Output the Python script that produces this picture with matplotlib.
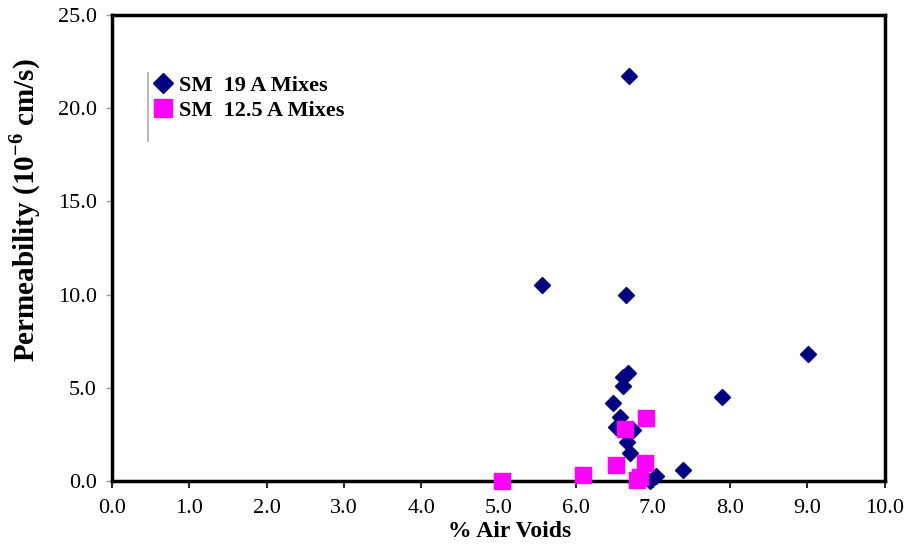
import matplotlib
matplotlib.use("Agg")
import matplotlib.pyplot as plt
from matplotlib.lines import Line2D

plt.rcParams['font.family'] = ['Liberation Serif', 'DejaVu Serif']
plt.rcParams['mathtext.fontset'] = 'custom'
plt.rcParams['mathtext.rm'] = 'Liberation Serif'
plt.rcParams['mathtext.bf'] = 'Liberation Serif:bold'

# SM 19 A Mixes (x = % air voids, y = permeability 1e-6 cm/s)
sm19_x = [5.56, 6.65, 6.68, 6.62, 6.62, 6.49, 6.57, 6.52, 6.74, 6.67, 6.70, 7.04, 6.96, 7.39, 7.89, 9.01, 6.69]
sm19_y = [10.5, 10.0, 5.81, 5.56, 5.10, 4.20, 3.42, 2.91, 2.74, 2.11, 1.52, 0.27, 0.0, 0.59, 4.49, 6.80, 21.7]

# SM 12.5 A Mixes
sm125_x = [5.05, 6.10, 6.52, 6.91, 6.64, 6.90, 6.84, 6.80]
sm125_y = [0.0, 0.32, 0.86, 3.40, 2.77, 0.98, 0.23, 0.05]

xticks = [0, 1, 2, 3, 4, 5, 6, 7, 8, 9, 10]
yticks = [0, 5, 10, 15, 20, 25]

fig = plt.figure(figsize=(9.11, 5.47), dpi=100)
ax = fig.add_axes([0.123, 0.1207, 0.848, 0.852])

ax.plot(sm19_x, sm19_y, linestyle='none', marker='D', ms=8.5, color='#000080',
        mec='#000080', label='SM  19 A Mixes', clip_on=False, zorder=3)
ax.plot(sm125_x, sm125_y, linestyle='none', marker='s', ms=11.5, color='#FF00FF',
        mec='#FF00FF', label='SM  12.5 A Mixes', clip_on=False, zorder=4)

ax.set_xlim(0, 10)
ax.set_ylim(0, 25)
ax.set_xticks(xticks)
ax.set_yticks(yticks)
ax.set_xticklabels([f"{v:.1f}" for v in xticks], fontsize=16)
ax.set_yticklabels([f"{v:.1f}" for v in yticks], fontsize=16)
ax.tick_params(axis='x', direction='out', length=5, width=1.2, color='black', pad=8)
ax.tick_params(axis='y', direction='out', length=4, width=1, color='#999999', pad=7)

for s in ax.spines.values():
    s.set_linewidth(2.5)
    s.set_color('black')

ax.set_xlabel('% Air Voids', fontsize=17, fontweight='bold')
ax.xaxis.set_label_coords(0.515, -0.085)
ax.set_ylabel('Permeability (10$^{\\mathbf{-6}}$ cm/s)', fontsize=21, fontweight='bold')
ax.yaxis.set_label_coords(-0.09, 0.58)

leg = ax.legend(loc='upper left', bbox_to_anchor=(0.04, 0.89), frameon=False,
                prop={'weight': 'bold', 'size': 16}, handletextpad=0.2,
                handlelength=1.0, labelspacing=0.2, borderaxespad=0,
                markerscale=1.15)
ax.add_line(Line2D([0.046, 0.046], [0.73, 0.875], transform=ax.transAxes,
                   color='#aaaaaa', lw=1.2))

fig.savefig('out.png', dpi=100)
